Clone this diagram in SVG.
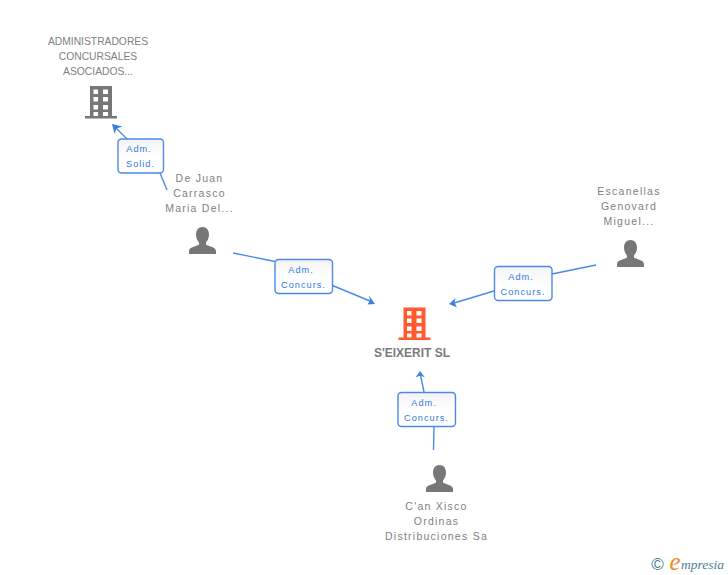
<svg xmlns="http://www.w3.org/2000/svg" width="728" height="575" viewBox="0 0 728 575">
<style>
text{font-family:"Liberation Sans",Arial,sans-serif;text-anchor:middle}
.n{font-size:10.5px;fill:#808080;letter-spacing:1.25px}
.a{font-size:10.3px;fill:#808080}
.b{font-size:12px;font-weight:bold;fill:#7a7a7a}
.l{font-size:9.2px;fill:#2f7be0;letter-spacing:1px}
.box{fill:url(#g);stroke:#4a8ae6;stroke-width:1.4}
.c{fill:none;stroke:#4a8ae6;stroke-width:1.4}
.h{fill:#3f82e3;stroke:none}
</style>
<defs>
<linearGradient id="g" x1="0" y1="0" x2="0" y2="1"><stop offset="0" stop-color="#f3f3f3"/><stop offset=".5" stop-color="#fff"/></linearGradient>
<path id="bld" fill-rule="evenodd" d="M5 0H27V30H32V32.500H0V30H5ZM8.500 3.500V8H13V3.500ZM18 3.500V8H23V3.500ZM8.500 11V15.500H13V11ZM18 11V15.500H23V11ZM8.500 19V23.500H13V19ZM18 19V23.500H23V19ZM8.500 26V30H13V26ZM18 26V30H23V26Z"/>
<path id="per" d="M13.500 0C17.500 0 20 3 20 7.500C20 11 18.500 14 17 15.500V17.500C20 19.500 27 20 27 24V27H0V24C0 20 7 19.500 10 17.500V15.500C8.500 14 7 11 7 7.500C7 3 9.500 0 13.500 0Z"/>
</defs>
<rect width="728" height="575" fill="#fff"/>
<g id="connectors">
<path class="c" d="M167 190L160 173M127 139L116 128"/><path class="h" d="M112 124L122.500 126.500L116.500 128.500L114.500 134Z"/>
<path class="c" d="M233 253L275 261.500M332.500 285.500L370 301"/><path class="h" d="M375 304L367.500 304.500L370 300.500L369 295.500Z"/>
<path class="c" d="M596 265L552 274M494 291L454 303"/><path class="h" d="M449 304L455.500 298L454.500 302.500L457 307.500Z"/>
<path class="c" d="M433.500 450L434 427M424 392L420.500 375"/><path class="h" d="M420 371L425 377.500L420.500 375.500L415.500 377.500Z"/>
</g>
<g id="node-admin"><text class="a" x="98" y="45">ADMINISTRADORES</text><text class="a" x="98" y="60">CONCURSALES</text><text class="a" x="98" y="75">ASOCIADOS...</text><use href="#bld" x="85" y="86" fill="#777"/></g>
<g id="node-dejuan"><text class="n" x="199.500" y="182">De Juan</text><text class="n" x="199.500" y="197">Carrasco</text><text class="n" x="199.500" y="212">Maria Del...</text><use href="#per" x="189" y="227" fill="#777"/></g>
<g id="node-escanellas"><text class="n" x="629" y="195">Escanellas</text><text class="n" x="629" y="210">Genovard</text><text class="n" x="629" y="225">Miguel...</text><use href="#per" x="617" y="240" fill="#777"/></g>
<g id="node-seixerit"><use href="#bld" x="398.500" y="307.500" fill="#ff5a30"/><text class="b" x="412" y="357">S'EIXERIT SL</text></g>
<g id="node-canxisco"><use href="#per" x="426" y="465" fill="#777"/><text class="n" x="436.500" y="510">C'an Xisco</text><text class="n" x="436.500" y="525">Ordinas</text><text class="n" x="436.500" y="540">Distribuciones Sa</text></g>
<g id="label-1"><rect class="box" x="118" y="139" width="45.500" height="34" rx="3.500"/><text class="l" x="139" y="152">Adm.</text><text class="l" x="140.500" y="167">Solid.</text></g>
<g id="label-2"><rect class="box" x="275" y="259.500" width="57.500" height="34" rx="3.500"/><text class="l" x="301" y="273">Adm.</text><text class="l" x="303.500" y="288">Concurs.</text></g>
<g id="label-3"><rect class="box" x="494.500" y="266.500" width="57.500" height="34" rx="3.500"/><text class="l" x="521" y="280">Adm.</text><text class="l" x="523" y="295">Concurs.</text></g>
<g id="label-4"><rect class="box" x="398" y="392.500" width="57.500" height="34" rx="3.500"/><text class="l" x="424" y="406">Adm.</text><text class="l" x="426.500" y="421">Concurs.</text></g>
<g id="credit"><text x="657.500" y="570" style="font-size:17px;fill:#4a7d95">©</text><text x="675" y="570" style="font-family:'Liberation Serif',serif;font-style:italic;font-size:25px;fill:#f08a1d">e</text><text x="681" y="569" style="text-anchor:start;font-family:'Liberation Serif',serif;font-style:italic;font-size:13.500px;fill:#4a7d95">mpresia</text></g>
</svg>
